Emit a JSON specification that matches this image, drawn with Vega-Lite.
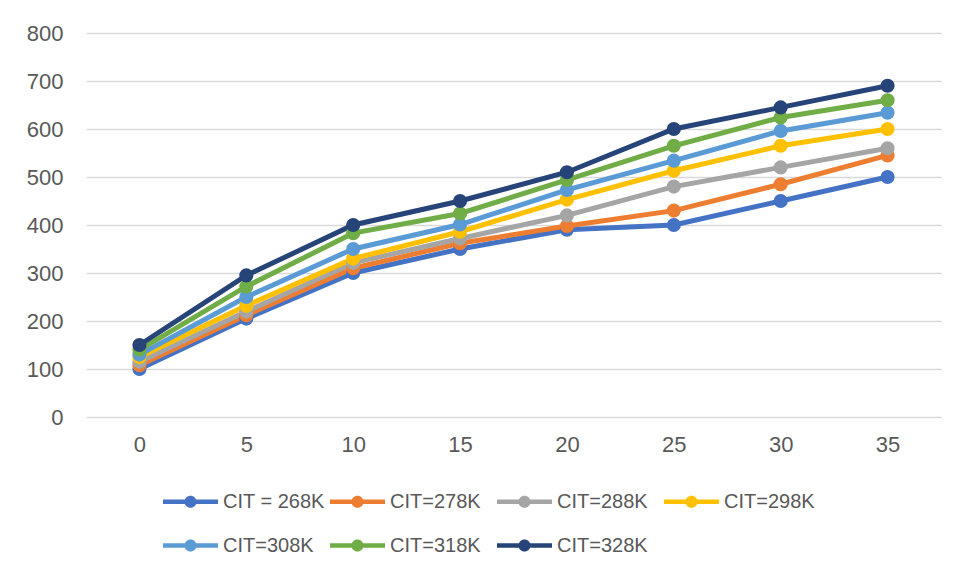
{
  "$schema": "https://vega.github.io/schema/vega-lite/v6.json",
  "width": 855,
  "height": 384,
  "autosize": {"type": "none"},
  "padding": {"left": 86, "top": 33, "right": 17, "bottom": 163},
  "background": "white",
  "config": {
    "font": "Liberation Sans",
    "view": {"stroke": null},
    "axis": {"labelColor": "#595959", "labelFont": "Liberation Sans", "labelFontSize": 22, "domain": false, "ticks": false, "title": null}
  },
  "data": {
    "values": [
      {"t": 0, "s": "CIT = 268K", "v": 100}, {"t": 5, "s": "CIT = 268K", "v": 205}, {"t": 10, "s": "CIT = 268K", "v": 300}, {"t": 15, "s": "CIT = 268K", "v": 350},
      {"t": 20, "s": "CIT = 268K", "v": 390}, {"t": 25, "s": "CIT = 268K", "v": 400}, {"t": 30, "s": "CIT = 268K", "v": 450}, {"t": 35, "s": "CIT = 268K", "v": 500},
      {"t": 0, "s": "CIT=278K", "v": 108}, {"t": 5, "s": "CIT=278K", "v": 212}, {"t": 10, "s": "CIT=278K", "v": 310}, {"t": 15, "s": "CIT=278K", "v": 362},
      {"t": 20, "s": "CIT=278K", "v": 398}, {"t": 25, "s": "CIT=278K", "v": 430}, {"t": 30, "s": "CIT=278K", "v": 485}, {"t": 35, "s": "CIT=278K", "v": 545},
      {"t": 0, "s": "CIT=288K", "v": 115}, {"t": 5, "s": "CIT=288K", "v": 220}, {"t": 10, "s": "CIT=288K", "v": 321}, {"t": 15, "s": "CIT=288K", "v": 372},
      {"t": 20, "s": "CIT=288K", "v": 420}, {"t": 25, "s": "CIT=288K", "v": 480}, {"t": 30, "s": "CIT=288K", "v": 520}, {"t": 35, "s": "CIT=288K", "v": 560},
      {"t": 0, "s": "CIT=298K", "v": 125}, {"t": 5, "s": "CIT=298K", "v": 232}, {"t": 10, "s": "CIT=298K", "v": 330}, {"t": 15, "s": "CIT=298K", "v": 386},
      {"t": 20, "s": "CIT=298K", "v": 453}, {"t": 25, "s": "CIT=298K", "v": 513}, {"t": 30, "s": "CIT=298K", "v": 565}, {"t": 35, "s": "CIT=298K", "v": 600},
      {"t": 0, "s": "CIT=308K", "v": 130}, {"t": 5, "s": "CIT=308K", "v": 250}, {"t": 10, "s": "CIT=308K", "v": 350}, {"t": 15, "s": "CIT=308K", "v": 401},
      {"t": 20, "s": "CIT=308K", "v": 473}, {"t": 25, "s": "CIT=308K", "v": 534}, {"t": 30, "s": "CIT=308K", "v": 596}, {"t": 35, "s": "CIT=308K", "v": 634},
      {"t": 0, "s": "CIT=318K", "v": 140}, {"t": 5, "s": "CIT=318K", "v": 272}, {"t": 10, "s": "CIT=318K", "v": 383}, {"t": 15, "s": "CIT=318K", "v": 424},
      {"t": 20, "s": "CIT=318K", "v": 494}, {"t": 25, "s": "CIT=318K", "v": 565}, {"t": 30, "s": "CIT=318K", "v": 624}, {"t": 35, "s": "CIT=318K", "v": 660},
      {"t": 0, "s": "CIT=328K", "v": 150}, {"t": 5, "s": "CIT=328K", "v": 295}, {"t": 10, "s": "CIT=328K", "v": 400}, {"t": 15, "s": "CIT=328K", "v": 450},
      {"t": 20, "s": "CIT=328K", "v": 510}, {"t": 25, "s": "CIT=328K", "v": 600}, {"t": 30, "s": "CIT=328K", "v": 645}, {"t": 35, "s": "CIT=328K", "v": 690}
    ]
  },
  "mark": {"type": "line", "strokeWidth": 5, "point": {"filled": true, "size": 200, "opacity": 1}},
  "encoding": {
    "x": {
      "field": "t", "type": "ordinal", "sort": "ascending",
      "scale": {"padding": 0.5},
      "axis": {"labelAngle": 0, "labelPadding": 17, "grid": false}
    },
    "y": {
      "field": "v", "type": "quantitative",
      "scale": {"domain": [0, 800], "nice": false},
      "axis": {"values": [0, 100, 200, 300, 400, 500, 600, 700, 800], "labelPadding": 23, "grid": true, "gridColor": "#D9D9D9", "gridWidth": 1.3}
    },
    "color": {
      "field": "s", "type": "nominal",
      "scale": {
        "domain": ["CIT = 268K", "CIT=278K", "CIT=288K", "CIT=298K", "CIT=308K", "CIT=318K", "CIT=328K"],
        "range": ["#4472C4", "#ED7D31", "#A5A5A5", "#FFC000", "#5B9BD5", "#70AD47", "#264478"]
      },
      "legend": {
        "title": null,
        "orient": "none",
        "legendX": 77,
        "legendY": 441,
        "direction": "horizontal",
        "columns": 4,
        "gridAlign": "all",
        "columnPadding": 5,
        "rowPadding": 6,
        "padding": 0,
        "symbolType": "M-1,-0.085L1,-0.085L1,0.085L-1,0.085Z M0.22,0A0.22,0.22,0,1,1,-0.22,0A0.22,0.22,0,1,1,0.22,0Z",
        "symbolSize": 3025,
        "symbolStrokeWidth": 0,
        "labelFont": "Liberation Sans",
        "labelFontSize": 20,
        "labelColor": "#595959",
        "labelOffset": 5,
        "labelLimit": 300,
        "encode": {"symbols": {"update": {"fill": {"scale": "color", "field": "value"}, "strokeWidth": {"value": 0}, "opacity": {"value": 1}}}}
      }
    }
  }
}
